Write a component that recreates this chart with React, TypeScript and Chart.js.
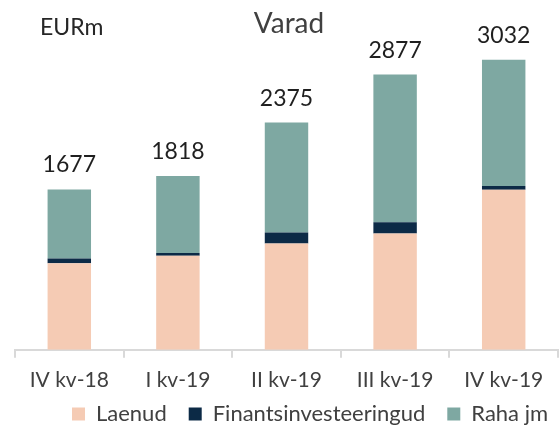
import React, { useEffect, useRef } from "react";
import { Chart, registerables } from "chart.js";

Chart.register(...registerables);

const categories = ["IV kv-18", "I kv-19", "II kv-19", "III kv-19", "IV kv-19"];
const laenud = [906, 984, 1110, 1215, 1673];
const finants = [49, 27, 116, 119, 39];
const raha = [722, 807, 1149, 1543, 1320];
const totals = [1677, 1818, 2375, 2877, 3032];
const chartTitle = "Varad";
const unitLabel = "EURm";

const FONT = "Lato, 'Open Sans', sans-serif";

export default function App() {
  const ref = useRef<HTMLCanvasElement | null>(null);

  useEffect(() => {
    if (!ref.current) return;
    const textPlugin = {
      id: "texts",
      afterLayout(chart: any) {
        const lg = chart.legend;
        if (lg) {
          const shift = 50 - lg.left;
          lg.left += shift;
          lg.right += shift;
          const h = lg.bottom - lg.top;
          lg.top = 381;
          lg.bottom = 381 + h;
        }
      },
      afterDatasetsDraw(chart: any) {
        const ctx = chart.ctx;
        ctx.save();
        const meta = chart.getDatasetMeta(chart.data.datasets.length - 1);
        ctx.font = `23px ${FONT}`;
        ctx.fillStyle = "#1f1f1f";
        ctx.textAlign = "center";
        ctx.textBaseline = "alphabetic";
        meta.data.forEach((bar: any, i: number) => {
          ctx.fillText(String(totals[i]), bar.x, bar.y - 17);
        });
        ctx.font = `28px ${FONT}`;
        ctx.fillStyle = "#404040";
        ctx.fillText(chartTitle, 289, 33);
        ctx.font = `23px ${FONT}`;
        ctx.fillStyle = "#262626";
        ctx.textAlign = "left";
        ctx.fillText(unitLabel, 40, 35);
        ctx.restore();
      },
    };

    const chart = new Chart(ref.current, {
      type: "bar",
      data: {
        labels: categories,
        datasets: [
          { label: "Laenud", data: laenud, backgroundColor: "#F5CBB4", stack: "s" },
          { label: "Finantsinvesteeringud", data: finants, backgroundColor: "#0C2A46", stack: "s" },
          { label: "Raha jm", data: raha, backgroundColor: "#7EA8A2", stack: "s" },
        ],
      },
      options: {
        animation: false,
        responsive: false,
        maintainAspectRatio: false,
        layout: { padding: { left: 15, right: 1, top: 15, bottom: -30 } },
        datasets: { bar: { categoryPercentage: 1, barPercentage: 0.4 } },
        scales: {
          x: {
            stacked: true,
            grid: { display: true, drawOnChartArea: false, tickLength: 8, color: "#d9d9d9", lineWidth: 2, offset: true },
            border: { display: true, color: "#d9d9d9", width: 2 },
            ticks: { color: "#404040", font: { family: FONT, size: 21 }, padding: 10, maxRotation: 0 },
          },
          y: {
            stacked: true,
            display: false,
            min: 0,
            max: 3500,
          },
        },
        plugins: {
          legend: {
            position: "bottom",
            align: "start",
            labels: {
              boxWidth: 13,
              boxHeight: 13,
              padding: 22,
              color: "#404040",
              font: { family: FONT, size: 22 },
            },
          },
          tooltip: { enabled: false },
          title: { display: false },
        },
      },
      plugins: [textPlugin],
    });
    return () => chart.destroy();
  }, []);

  return (
    <div style={{ position: "absolute", left: 0, top: 0, width: 559, height: 427, background: "#fff" }}>
      <canvas ref={ref} width={559} height={427} style={{ display: "block", width: 559, height: 427 }} />
    </div>
  );
}
